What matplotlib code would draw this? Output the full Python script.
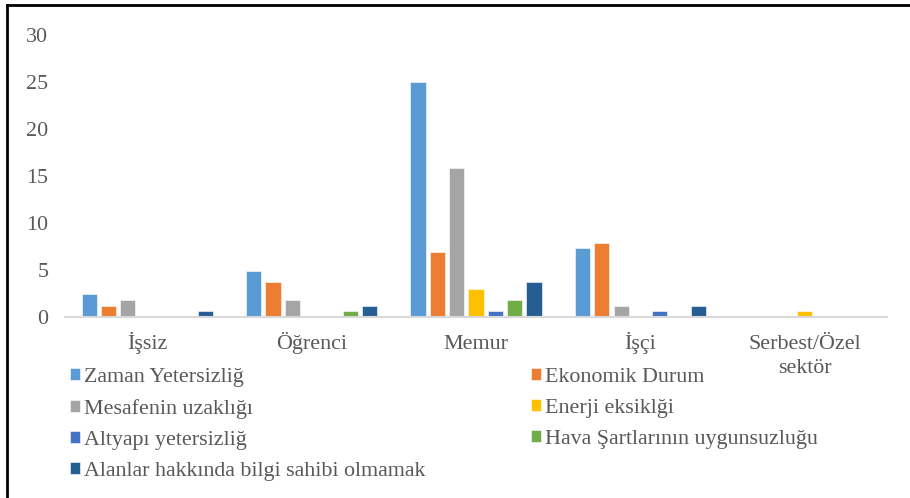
import numpy as np
import matplotlib.pyplot as plt
from matplotlib.lines import Line2D
from matplotlib.transforms import ScaledTranslation

plt.rcParams['font.family'] = ['Liberation Serif', 'DejaVu Serif']

# meslek grupları
categories = ["İşsiz", "Öğrenci", "Memur", "İşçi", "Serbest/Özel\nsektör"]
series_names = ["Zaman Yetersizliğ", "Ekonomik Durum", "Mesafenin uzaklığı",
                "Enerji eksiklği", "Altyapı yetersizliğ",
                "Hava Şartlarının uygunsuzluğu",
                "Alanlar hakkında bilgi sahibi olmamak"]
zaman = [2.4, 4.9, 25.0, 7.3, 0]
ekonomik = [1.2, 3.7, 6.9, 7.9, 0]
mesafe = [1.8, 1.8, 15.9, 1.2, 0]
enerji = [0, 0, 3.0, 0, 0.6]
altyapi = [0, 0, 0.6, 0.6, 0]
hava = [0, 0.6, 1.8, 0, 0]
bilgi = [0.6, 1.2, 3.7, 1.2, 0]
yticks = [0, 5, 10, 15, 20, 25, 30]

colors = ["#5B9BD5", "#ED7D31", "#A5A5A5", "#FFC000", "#4472C4", "#70AD47", "#255E91"]
all_series = [zaman, ekonomik, mesafe, enerji, altyapi, hava, bilgi]

W, H = 910, 498
fig = plt.figure(figsize=(W / 100, H / 100), dpi=100)
ax = fig.add_axes([65 / W, (H - 317) / H, (887 - 65) / W, (317 - 35) / H])

x = np.arange(len(categories))
slot = 0.1175
bw = 0.092
handles = []
for i, (vals, name, c) in enumerate(zip(all_series, series_names, colors)):
    b = ax.bar(x + (i - 3) * slot, vals, width=bw, color=c, label=name,
               edgecolor="white", linewidth=0.4)
    handles.append(b)

ax.set_xlim(-0.5, len(categories) - 0.5)
ax.set_ylim(0, 30)
ax.set_yticks(yticks)
ax.set_xticks(x)
ax.set_xticklabels([])
ax.tick_params(axis="y", length=0, pad=12, labelsize=15.8, labelcolor="#595959")
ax.tick_params(axis="x", length=0)
for s in ["top", "right", "left"]:
    ax.spines[s].set_visible(False)
ax.spines["bottom"].set_color("#D9D9D9")
ax.spines["bottom"].set_linewidth(1.5)

# kategori etiketleri: ilk satırların taban çizgisi aynı hizada
for xi, cat in zip(x, categories):
    nlines = cat.count("\n")
    off = ScaledTranslation(0, -(32 + 24 * nlines) / 100, fig.dpi_scale_trans)
    ax.text(xi, 0, cat, transform=ax.get_xaxis_transform() + off,
            ha="center", va="baseline", fontsize=15.8, color="#595959",
            linespacing=1.35, multialignment="center")

# legend row-wise order
order = [0, 2, 4, 6, 1, 3, 5]
leg = fig.legend([handles[k] for k in order], [series_names[k] for k in order],
                 ncol=2, loc="upper left", bbox_to_anchor=(70 / W, 1 - 368 / H),
                 frameon=False, fontsize=15.8, handlelength=0.45, handleheight=0.45,
                 handletextpad=0.2, labelspacing=0.55, columnspacing=4.8,
                 borderaxespad=0, borderpad=0)
for t in leg.get_texts():
    t.set_color("#595959")

# figure frame (top and left edges visible)
fig.add_artist(Line2D([7 / W, 7 / W], [0, 1 - 5 / H], color="black", lw=2))
fig.add_artist(Line2D([7 / W, 1], [1 - 5 / H, 1 - 5 / H], color="black", lw=2))

fig.savefig("out.png", dpi=100)
